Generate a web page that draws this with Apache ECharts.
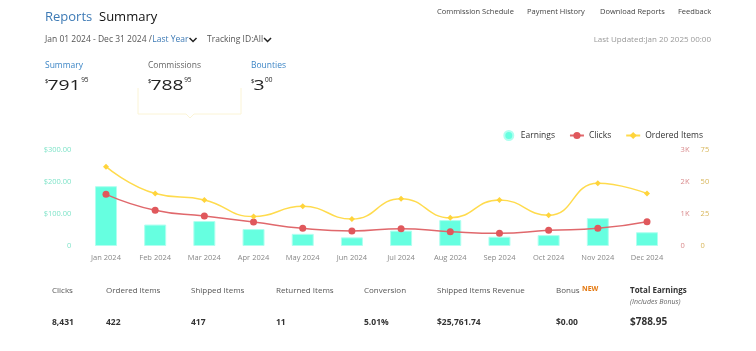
<!DOCTYPE html>
<html><head><meta charset="utf-8">
<script src="https://cdn.jsdelivr.net/npm/echarts@6/dist/echarts.min.js"></script>
<style>html,body{margin:0;padding:0;background:#fff}#c{width:756px;height:351px}</style>
</head><body><div id="c"></div>
<script>
var months = ['Jan 2024','Feb 2024','Mar 2024','Apr 2024','May 2024','Jun 2024','Jul 2024','Aug 2024','Sep 2024','Oct 2024','Nov 2024','Dec 2024'];
var earnings = [187, 67, 78, 53, 38, 27, 48, 81, 29, 34, 87, 43];
var clicks = [1615, 1115, 937, 750, 552, 469, 542, 448, 396, 490, 552, 760];
var orderedItems = [62, 41, 36, 23, 31, 21, 37, 22, 36, 24, 49, 41];
var statLabels = ['Clicks','Ordered Items','Shipped Items','Returned Items','Conversion','Shipped Items Revenue','Bonus','Total Earnings'];
var statValues = ['8,431','422','417','11','5.01%','$25,761.74','$0.00','$788.95'];
var navLinks = ['Commission Schedule','Payment History','Download Reports','Feedback'];

var F = '"Open Sans", "Noto Sans", sans-serif';
var chart = echarts.init(document.getElementById('c'), null, {renderer:'canvas'});
var mctx = document.createElement('canvas').getContext('2d');
function tw(s, size, w) { mctx.font = (w||'normal') + ' ' + size + 'px ' + F; return mctx.measureText(s).width; }

function txt(x, y, s, o) {
  o = o || {};
  var e = {type:'text', x:x, y:y, style:{text:s, fill:o.c||'#333', font:(o.it?'italic ':'')+(o.w||'normal')+' '+(o.s||8)+'px '+F, textVerticalAlign:'middle', textAlign:o.a||'left'}, silent:true};
  if (o.sx) e.scaleX = o.sx;
  return e;
}
var g = [];
g.push(txt(45, 17, 'Reports', {s:13, c:'#3d7ab5'}));
g.push(txt(99, 17, 'Summary', {s:13, c:'#111'}));
var navX = [437, 527, 600, 678];
navLinks.forEach(function(n,i){ g.push(txt(navX[i], 12, n, {s:7.5, c:'#444'})); });
g.push(txt(45, 40, 'Jan 01 2024 - Dec 31 2024 /', {s:8.5, c:'#555'}));
var lyX = 45 + tw('Jan 01 2024 - Dec 31 2024 /', 8.5) + 0.5;
g.push(txt(lyX, 40, 'Last Year', {s:8.5, c:'#3d7ab5'}));
var cx1 = lyX + tw('Last Year', 8.5) + 1;
g.push({type:'polyline', shape:{points:[[cx1,38],[cx1+3.5,41.5],[cx1+7,38]]}, style:{stroke:'#222', lineWidth:1.5, fill:null}, silent:true});
g.push(txt(207, 40, 'Tracking ID:All', {s:8.5, c:'#555'}));
var cx2 = 207 + tw('Tracking ID:All', 8.5) + 1;
g.push({type:'polyline', shape:{points:[[cx2,38],[cx2+3.5,41.5],[cx2+7,38]]}, style:{stroke:'#222', lineWidth:1.5, fill:null}, silent:true});
g.push(txt(711, 40, 'Last Updated:Jan 20 2025 00:00', {s:8, c:'#999', a:'right'}));

g.push(txt(45, 66, 'Summary', {s:8.5, c:'#3d86c6'}));
g.push(txt(148, 66, 'Commissions', {s:8.5, c:'#666'}));
g.push(txt(251, 66, 'Bounties', {s:8.5, c:'#3d86c6'}));
function money(x, big, cents) {
  var sx = 1.38;
  g.push(txt(x, 81, '$', {s:6, c:'#111'}));
  g.push(txt(x+2.5, 86, big, {s:14, c:'#222', sx:sx}));
  var w = tw(big, 14) * sx;
  g.push(txt(x+2.5+w+0.5, 80.5, cents, {s:6.5, c:'#222'}));
}
money(45, '791', '95');
money(148, '788', '95');
money(251, '3', '00');
g.push({type:'polyline', shape:{points:[[138,88],[138,114],[186,114],[190,118],[194,114],[241,114],[241,88]]}, style:{stroke:'#fbf4d6', lineWidth:1, fill:null}, silent:true});

var statX = [52, 106, 191, 276, 364, 437, 556, 630];
statLabels.forEach(function(l,i){
  var last = i === statLabels.length-1;
  g.push(txt(statX[i], 291, l, {s:8, c: last ? '#333' : '#555', w: last ? 'bold' : 'normal'}));
  g.push(txt(statX[i], last ? 322 : 323, statValues[i], {s: last ? 10 : 8.5, c:'#333', w:'bold'}));
});
g.push(txt(582, 289, 'NEW', {s:7, c:'#e47911', w:'bold'}));
g.push(txt(630, 302, '(Includes Bonus)', {s:7, c:'#666', it:true}));

var axisLbl = {fontFamily:F, fontSize:7.5};
chart.setOption({
  animation:false,
  textStyle:{fontFamily:F},
  legend:{right:48, top:125, itemWidth:14, itemHeight:9, itemGap:14, textStyle:{fontFamily:F, fontSize:8.5, color:'#333'},
    data:[{name:'Earnings', icon:'circle'}, {name:'Clicks'}, {name:'Ordered Items'}]},
  grid:{left:81.4, right:84.4, top:150, bottom:105},
  xAxis:{type:'category', data:months, axisLine:{show:false}, axisTick:{show:false},
    axisLabel:Object.assign({color:'#888', margin:8, interval:0}, axisLbl)},
  yAxis:[
    {type:'value', min:0, max:300, interval:100, splitLine:{show:false}, axisLine:{show:false}, axisTick:{show:false},
      axisLabel:Object.assign({color:'#7ee3c8', margin:10, formatter:function(v){return v===0?'0':'$'+v.toFixed(2);}}, axisLbl)},
    {type:'value', position:'right', min:0, max:3000, interval:1000, splitLine:{show:false}, axisLine:{show:false}, axisTick:{show:false},
      axisLabel:Object.assign({color:'#d98a8c', margin:9, formatter:function(v){return v===0?'0':(v/1000)+'K';}}, axisLbl)},
    {type:'value', position:'right', offset:20, min:0, max:75, interval:25, splitLine:{show:false}, axisLine:{show:false}, axisTick:{show:false},
      axisLabel:Object.assign({color:'#d8b65a', margin:9}, axisLbl)}
  ],
  series:[
    {name:'Earnings', type:'bar', data:earnings, yAxisIndex:0, barWidth:22,
      itemStyle:{color:'#66ffe0', borderColor:'#b0fff0', borderWidth:1}},
    {name:'Clicks', type:'line', data:clicks, yAxisIndex:1, smooth:true, symbol:'circle', symbolSize:7,
      lineStyle:{color:'#e0686c', width:1.5}, itemStyle:{color:'#e0585c'}},
    {name:'Ordered Items', type:'line', data:orderedItems, yAxisIndex:2, smooth:true, symbol:'diamond', symbolSize:6,
      lineStyle:{color:'#ffdb4d', width:1.5}, itemStyle:{color:'#ffd43b'}}
  ],
  graphic:g
});
</script></body></html>
